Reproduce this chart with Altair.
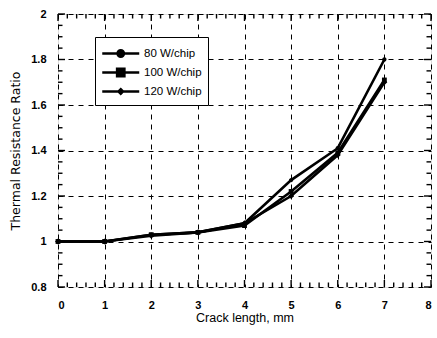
import altair as alt
import pandas as pd
import numpy as np

crack = [0, 1, 2, 3, 4, 5, 6, 7]
s80 = [1.0, 1.0, 1.03, 1.04, 1.08, 1.27, 1.41, 1.80]
s100 = [1.0, 1.0, 1.03, 1.04, 1.07, 1.22, 1.39, 1.71]
s120 = [1.0, 1.0, 1.025, 1.04, 1.08, 1.20, 1.38, 1.70]
names = ["80 W/chip", "100 W/chip", "120 W/chip"]

x_major = [0, 1, 2, 3, 4, 5, 6, 7, 8]
y_major = [0.8, 1.0, 1.2, 1.4, 1.6, 1.8, 2.0]
X_MIN, X_MAX = 0, 8
Y_MIN, Y_MAX = 0.8, 2.0

rows = []
for n, vals in zip(names, [s80, s100, s120]):
    for x, v in zip(crack, vals):
        rows.append({"x": x, "y": v, "series": n})
df = pd.DataFrame(rows)

W, H = 373, 273
FONT = "Liberation Sans"

xs = alt.Scale(domain=[X_MIN, X_MAX], nice=False)
ys = alt.Scale(domain=[Y_MIN, Y_MAX], nice=False)

marker_paths = [
    "M0.55,0A0.55,0.55 0 1,1 -0.55,0A0.55,0.55 0 1,1 0.55,0Z",
    "M-0.6,-0.6H0.6V0.6H-0.6Z",
    "M0,-0.7L0.7,0L0,0.7L-0.7,0Z",
]
marker_sizes = [60, 70, 25]
legend_paths = [
    "M-1,0H3M1.35,0A0.35,0.35 0 1,1 0.65,0A0.35,0.35 0 1,1 1.35,0ZM1.15,0A0.15,0.15 0 1,1 0.85,0A0.15,0.15 0 1,1 1.15,0Z",
    "M-1,0H3M0.6,-0.4H1.4V0.4H0.6ZM0.8,-0.2H1.2V0.2H0.8Z",
    "M-1,0H3M1,-0.25L1.25,0L1,0.25L0.75,0Z",
]

lines = alt.Chart(df).mark_line(color="black", strokeWidth=2.6).encode(
    x=alt.X("x:Q", scale=xs,
            axis=alt.Axis(values=x_major, title="Crack length, mm",
                          grid=True, gridDash=[5, 5], gridColor="black", gridOpacity=1,
                          gridWidth=1, ticks=False, domain=False, labelFont=FONT,
                          labelFontSize=11, labelFontWeight="bold", labelColor="black",
                          labelPadding=12, titleFont=FONT, titleFontSize=12.5,
                          titleFontWeight="normal", titleColor="black", titlePadding=1)),
    y=alt.Y("y:Q", scale=ys,
            axis=alt.Axis(values=y_major,
                          labelExpr="datum.value == 1 ? '1' : datum.value == 2 ? '2' : format(datum.value, '.1f')",
                          title="Thermal  Resistance  Ratio",
                          grid=True, gridDash=[5, 5], gridColor="black", gridOpacity=1,
                          gridWidth=1, ticks=False, domain=False, labelFont=FONT,
                          labelFontSize=11, labelFontWeight="bold", labelColor="black",
                          labelPadding=12, titleFont="DejaVu Sans", titleFontSize=12.5,
                          titleFontWeight="normal", titleColor="black", titlePadding=8)),
    detail="series:N",
)

points = alt.Chart(df).mark_point(filled=True, color="black", opacity=1).encode(
    x=alt.X("x:Q", scale=xs),
    y=alt.Y("y:Q", scale=ys),
    shape=alt.Shape("series:N", scale=alt.Scale(domain=names, range=marker_paths), legend=None),
    size=alt.Size("series:N", scale=alt.Scale(domain=names, range=marker_sizes), legend=None),
)

legend_layer = alt.Chart(df).mark_point(filled=False, color="black",
                                        strokeWidth=2.4, opacity=0).encode(
    x=alt.X("x:Q", scale=xs),
    y=alt.Y("y:Q", scale=ys),
    shape=alt.Shape("series:N", scale=alt.Scale(domain=names, range=legend_paths),
                    legend=alt.Legend(title=None, orient="none", legendX=37, legendY=23,
                                      strokeColor="black", fillColor="white",
                                      padding=6, rowPadding=-4,
                                      symbolSize=342, symbolOpacity=1,
                                      symbolStrokeColor="black",
                                      symbolStrokeWidth=2.4,
                                      labelFont=FONT, labelFontSize=11.5,
                                      labelColor="black", labelOffset=22)),
)

xt = np.round(np.arange(X_MIN, X_MAX + 0.001, 0.2), 2)
x_minor = [float(v) for v in xt if not np.isclose(v, round(v))]
yt = np.round(np.arange(Y_MIN, Y_MAX + 0.0001, 0.05), 3)
y_minor = [float(v) for v in yt if not any(np.isclose(v, m) for m in y_major)]

def vticks(vals, ypos, size, off):
    d = pd.DataFrame({"v": [float(v) for v in vals], "p": ypos})
    return alt.Chart(d).mark_tick(
        color="black", orient="vertical", size=size, thickness=1.4, opacity=1, yOffset=off).encode(
        x=alt.X("v:Q", scale=xs), y=alt.Y("p:Q", scale=ys))

def hticks(vals, xpos, size, off):
    d = pd.DataFrame({"v": [float(v) for v in vals], "p": xpos})
    return alt.Chart(d).mark_tick(
        color="black", orient="horizontal", size=size, thickness=1.4, opacity=1, xOffset=off).encode(
        y=alt.Y("v:Q", scale=ys), x=alt.X("p:Q", scale=xs))

MJ, MN = 7, 4.5
tick_layers = [
    vticks(x_major, Y_MIN, MJ, -MJ / 2), vticks(x_minor, Y_MIN, MN, -MN / 2),
    vticks(x_major, Y_MAX, MJ, MJ / 2), vticks(x_minor, Y_MAX, MN, MN / 2),
    hticks(y_major, X_MIN, MJ, MJ / 2), hticks(y_minor, X_MIN, MN, MN / 2),
    hticks(y_major, X_MAX, MJ, -MJ / 2), hticks(y_minor, X_MAX, MN, -MN / 2),
]

chart = alt.layer(lines, *tick_layers, points, legend_layer).resolve_scale(
    shape="independent", size="independent"
).properties(
    width=W, height=H,
    autosize=alt.AutoSizeParams(type="none"),
    padding={"left": 58, "top": 14, "right": 6, "bottom": 51},
).configure_view(stroke="black", strokeWidth=2).configure_legend(
    strokeWidth=2.5
).configure(background="white")

chart.save("out.html", embed_options={"renderer": "svg", "actions": False})
